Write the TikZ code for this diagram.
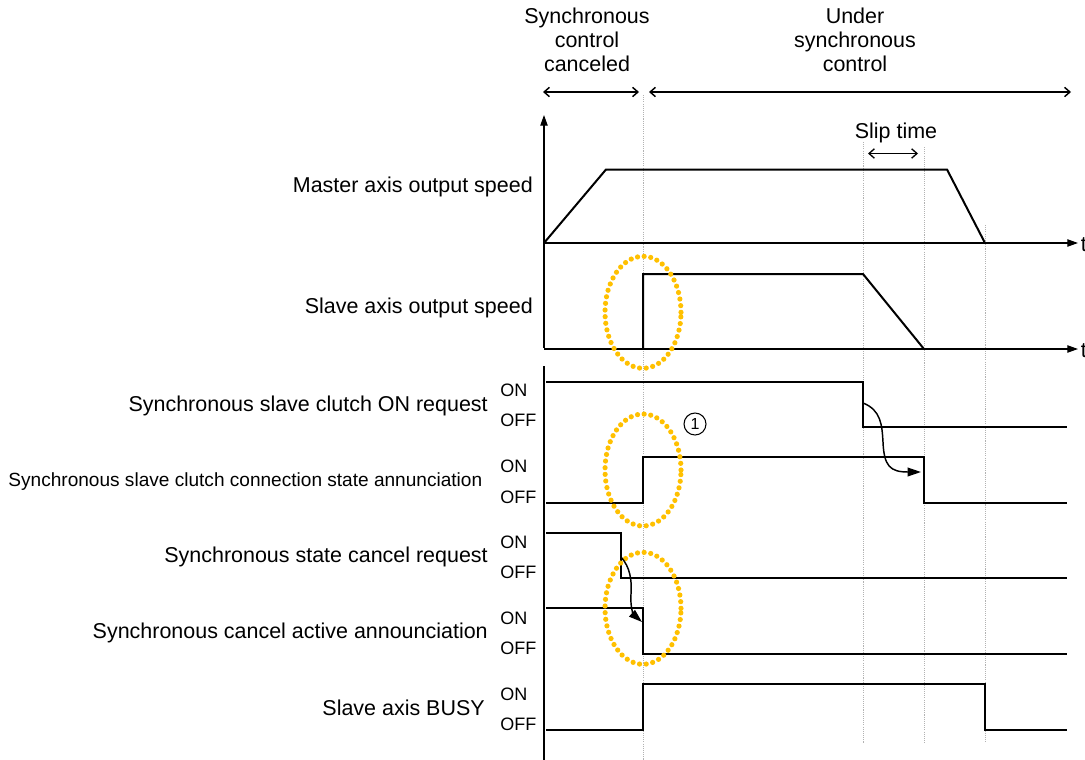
\documentclass[tikz,border=0pt]{standalone}
\usepackage{fontspec}
\setmainfont{Liberation Sans}
\usetikzlibrary{arrows.meta}
\definecolor{hlorange}{RGB}{255,192,0}

\begin{document}
\begin{tikzpicture}[
    x=0.75pt, y=-0.75pt,
    >=Latex,
    sig/.style={line width=1.5pt},
    axis/.style={line width=0.9pt},
    guide/.style={gray!60, line width=0.6pt, dash pattern=on 0.8pt off 0.8pt},
    hilite/.style={
        draw=hlorange,
        line width=3.9pt,
        line cap=round,
        dash pattern=on 0pt off 5pt
    },
    lbl/.style={anchor=base east, inner sep=0pt, font=\fontsize{16.1}{18}\selectfont},
    onoff/.style={anchor=base west, inner sep=0pt, font=\fontsize{13.5}{15}\selectfont},
    head/.style={anchor=north, align=center, inner sep=0pt, font=\fontsize{16.1}{18}\selectfont},
    span/.style={line width=1.1pt, {Straight Barb[length=4pt,width=7pt]}-{Straight Barb[length=4pt,width=7pt]}},
    tip/.style={-{Triangle[length=8pt,width=5.5pt]}},
    cause/.style={line width=1.1pt, -{Triangle[length=10pt,width=6.5pt]}}
]

\useasboundingbox (0,0) rectangle (1085,760);

\node[head] (canceled) at (587,8) {Synchronous\\control\\canceled};
\node[head] (under) at (855,8) {Under\\synchronous\\control};
\draw[span] (543,92) -- (639,92);
\draw[span] (649,92) -- (1071,92);

\draw[guide] (643,95) -- (643,760);
\draw[guide] (863,142) -- (863,743);
\draw[guide] (924,147) -- (924,743);
\draw[guide] (985,225) -- (985,743);

\node[anchor=base, inner sep=0pt, font=\fontsize{16.1}{18}\selectfont] (slip) at (896,138.5) {Slip time};
\draw[span, line width=1pt] (868,153.5) -- (918,153.5);

\draw[axis, tip] (544,348) -- (544,115);
\draw[axis, tip] (544,243) -- (1078,243);
\draw[axis, tip] (544,349) -- (1078,349);
\draw[axis] (544,366) -- (544,760);
\node[anchor=west, inner sep=0pt, font=\fontsize{16.1}{18}\selectfont] (t1) at (1080.5,245) {t};
\node[anchor=west, inner sep=0pt, font=\fontsize{16.1}{18}\selectfont] (t2) at (1080.5,351) {t};

\draw[sig] (544,243) -- (606,169.5) -- (947,169.5) -- (985,243);
\draw[sig] (643,349) -- (643,274) -- (863,274) -- (924,349);

\draw[sig] (546,381.5) -- (863,381.5) -- (863,426.5) -- (1067,426.5);
\draw[sig] (546,502.5) -- (643,502.5) -- (643,456.5) -- (924,456.5) -- (924,502.5) -- (1067,502.5);
\draw[sig] (546,532.5) -- (621,532.5) -- (621,578) -- (1067,578);
\draw[sig] (546,608) -- (643,608) -- (643,653.5) -- (1067,653.5);
\draw[sig] (546,730) -- (643,730) -- (643,684) -- (985,684) -- (985,730) -- (1067,730);

\draw[hilite] (643,312.3) ellipse [x radius=28.5pt, y radius=42pt];
\draw[hilite] (643,470) ellipse [x radius=28.5pt, y radius=42pt];
\draw[hilite] (643,608.3) ellipse [x radius=28.5pt, y radius=42pt];

\node[lbl] (master) at (533,192) {Master axis output speed};
\node[lbl] (slave) at (533,313) {Slave axis output speed};
\node[lbl] (clreq) at (488,411.5) {Synchronous slave clutch ON request};
\node[lbl, font=\fontsize{14.3}{16}\selectfont] (clstate) at (482.5,486.5) {Synchronous slave clutch connection state annunciation};
\node[lbl] (cnreq) at (488,562.5) {Synchronous state cancel request};
\node[lbl] (cnact) at (488,638.5) {Synchronous cancel active announciation};
\node[lbl] (busy) at (485,715) {Slave axis BUSY};

\foreach \yy [count=\i] in {396,472.5,548,624,700} {
    \node[onoff] (on\i) at (500,\yy) {ON};
    \node[onoff] (off\i) at (500,\yy+30.5) {OFF};
}

\node[circle, draw, line width=0.8pt, minimum size=16.5pt, inner sep=0pt, font=\fontsize{12}{12}\selectfont] (step1) at (695,424) {1};

\coordinate (reqfall) at (863,403);
\coordinate (statefall) at (921,472);
\draw[cause] (reqfall) .. controls (881,410) and (882,425) .. (883,442) .. controls (884,466) and (890,472) .. (statefall);
\coordinate (cnfall) at (621,557);
\coordinate (actfall) at (642,622);
\draw[cause] (cnfall) .. controls (630,567) and (632,580) .. (631,594) .. controls (630,608) and (634,615) .. (actfall);

\end{tikzpicture}
\end{document}
